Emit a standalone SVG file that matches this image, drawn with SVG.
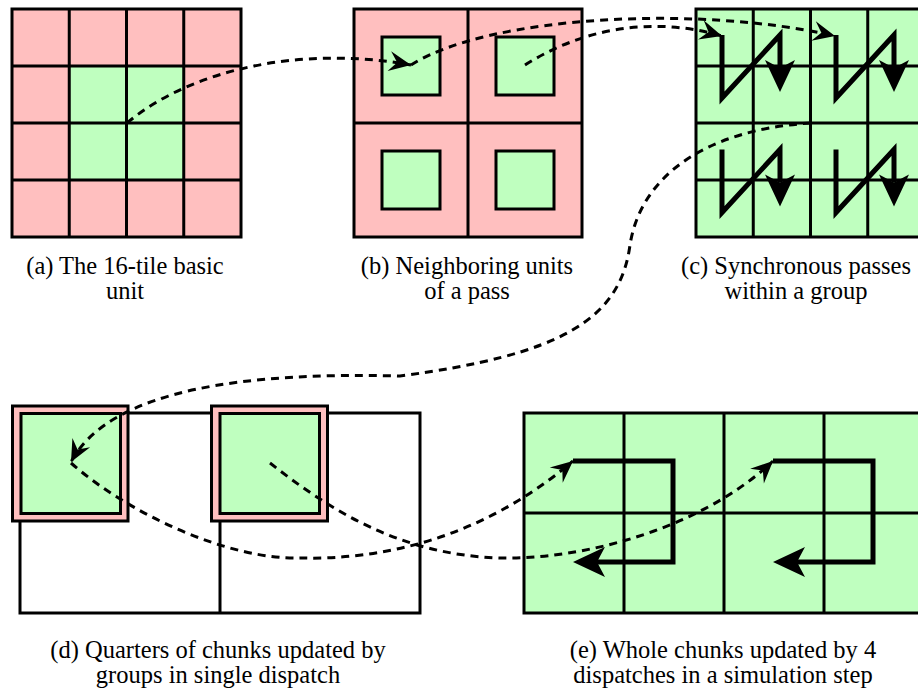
<svg xmlns="http://www.w3.org/2000/svg" width="918" height="693" viewBox="0 0 918 693">
<style>
.pink{fill:#ffbfbf}
.green{fill:#bfffbf}
.box{stroke:#000;stroke-width:3}
.ln{stroke:#000;stroke-width:3;fill:none}
.thick{stroke:#000;stroke-width:5;fill:none;stroke-linejoin:miter;stroke-miterlimit:10;marker-end:url(#big-arrow)}
.dash{stroke:#000;stroke-width:3;fill:none;stroke-dasharray:8 6;marker-end:url(#dash-arrow)}
text{font-family:"Liberation Serif","Times New Roman",serif;font-size:24.5px;text-anchor:middle;fill:#000}
</style>
<defs>
<marker id="dash-arrow" markerUnits="userSpaceOnUse" markerWidth="1" markerHeight="1" refX="0" refY="0" orient="auto" overflow="visible">
<path d="M0,0 L-22,-10 L-14,0 L-22,10 Z" fill="#000"/>
</marker>
<marker id="big-arrow" markerUnits="userSpaceOnUse" markerWidth="1" markerHeight="1" refX="0" refY="0" orient="auto" overflow="visible">
<path d="M24,0 L-8,-15 L0,0 L-8,15 Z" fill="#000"/>
</marker>
</defs>
<rect width="918" height="693" fill="#fff"/>

<g id="panel-a">
<rect class="pink" x="12" y="9" width="229" height="228"/>
<rect class="green" x="69.25" y="66" width="114.5" height="114"/>
<rect class="ln" x="12" y="9" width="229" height="228"/>
<path class="ln" d="M69.25,9V237M126.5,9V237M183.75,9V237M12,66H241M12,123H241M12,180H241"/>
<text x="125" y="274">(a) The 16-tile basic</text>
<text x="125" y="299">unit</text>
</g>

<g id="panel-b">
<rect class="pink box" x="354" y="9" width="228" height="228"/>
<path class="ln" d="M468,9V237M354,123H582"/>
<rect class="green box" x="382" y="37" width="58" height="58"/>
<rect class="green box" x="496" y="37" width="58" height="58"/>
<rect class="green box" x="382" y="151" width="58" height="58"/>
<rect class="green box" x="496" y="151" width="58" height="58"/>
<text x="467" y="274">(b) Neighboring units</text>
<text x="467" y="299">of a pass</text>
</g>

<g id="panel-c">
<rect class="green box" x="696" y="9" width="229" height="228"/>
<path class="ln" d="M753.25,9V237M810.5,9V237M867.75,9V237M696,66H925M696,123H925M696,180H925"/>
<path class="thick" d="M722,35V98L780,35V68"/>
<path class="thick" d="M836,35V98L894,35V68"/>
<path class="thick" d="M722,149.5V212.5L780,149.5V182.5"/>
<path class="thick" d="M836,149.5V212.5L894,149.5V182.5"/>
<text x="796" y="274">(c) Synchronous passes</text>
<text x="796" y="299">within a group</text>
</g>

<g id="panel-d">
<rect class="ln" x="20" y="413" width="400" height="200" fill="#fff"/>
<path class="ln" d="M220,413V613"/>
<rect class="pink box" x="12.5" y="406" width="115.5" height="115"/>
<rect class="green box" x="21" y="413.5" width="99.5" height="100"/>
<rect class="pink box" x="211.5" y="406" width="116" height="115"/>
<rect class="green box" x="220" y="413.5" width="99.5" height="100"/>
<text x="218" y="658">(d) Quarters of chunks updated by</text>
<text x="218" y="683">groups in single dispatch</text>
</g>

<g id="panel-e">
<rect class="green box" x="524" y="413" width="400" height="200"/>
<path class="ln" d="M624,413V613M724,413V613M824,413V613M524,513H924"/>
<path class="thick" d="M573,461H673V562H597"/>
<path class="thick" d="M773,461H873V562H797"/>
<text x="723" y="658">(e) Whole chunks updated by 4</text>
<text x="723" y="683">dispatches in a simulation step</text>
</g>

<g id="connectors">
<path class="dash" d="M127,123C190,70 300,45 411,65"/>
<path class="dash" d="M411,65C490,15 700,5 835,36"/>
<path class="dash" d="M525,65C580,30 650,15 722,36"/>
<path class="dash" d="M811,123C700,130 640,180 630,245C620,320 560,355 400,376C250,372 110,388 71,462"/>
<path class="dash" d="M71,463C130,515 230,560 300,558C380,560 480,540 573,461"/>
<path class="dash" d="M270,463C330,510 400,555 500,558C580,560 700,530 773,461"/>
</g>
</svg>
